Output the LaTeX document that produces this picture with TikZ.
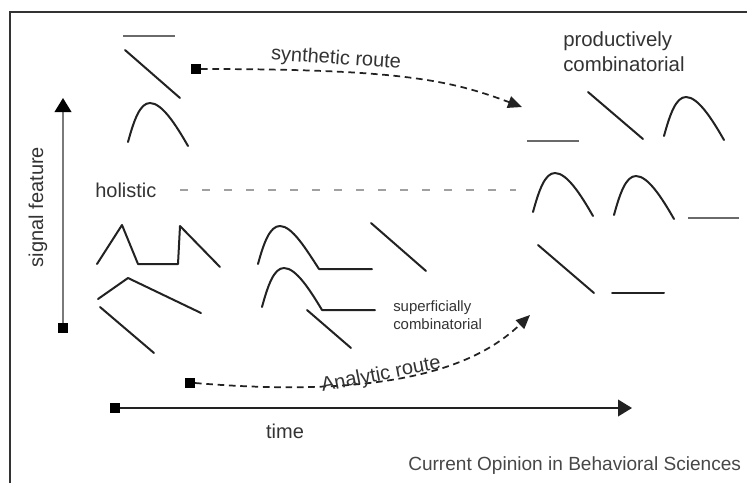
\documentclass[tikz,border=0pt]{standalone}
\usepackage{fontspec}
\setmainfont{Liberation Sans}
\usetikzlibrary{arrows.meta}
\definecolor{ink}{HTML}{222222}
\definecolor{txt}{HTML}{333333}
\definecolor{greyline}{HTML}{6A6A6A}
\definecolor{axisgrey}{HTML}{7A7A7A}
\definecolor{dashgrey}{HTML}{A0A0A0}
\tikzset{
  glyph/.style={draw=ink, line width=1.5pt, line cap=round, line join=round},
  flatglyph/.style={draw=greyline, line width=1.9pt},
  sqmark/.style={fill=black, draw=none, minimum size=7.5pt, inner sep=0pt, outer sep=0pt},
  lbl/.style={text=txt, inner sep=0pt, font=\fontsize{15}{18}\selectfont},
  route/.style={draw=ink, line width=1.3pt, dash pattern=on 5pt off 3.5pt,
    -{Triangle[length=10.5pt,width=9pt]}},
  archglyph/.pic={\draw[glyph] (0,0) .. controls (6,-22) and (12,-39) .. (22,-39)
     .. controls (34,-39) and (48,-17) .. (60,4);}
}
\begin{document}
\begin{tikzpicture}[x=0.75pt,y=-0.75pt]
\useasboundingbox (0,0) rectangle (747,483);
% frame
\draw[draw=txt, line width=1.5pt] (10,483) -- (10,12) -- (747,12);

% axes
\node[sqmark] (vsq) at (63,328) {};
\coordinate (vtip) at (63,98);
\draw[draw=axisgrey, line width=1.3pt, -{Triangle[length=10.5pt,width=12.5pt,fill=black,color=black]}] (vsq) -- (vtip);
\node[sqmark] (hsq) at (115,408) {};
\coordinate (htip) at (632,408);
\draw[draw=ink, line width=1.3pt, -{Triangle[length=10.5pt,width=12.5pt]}] (hsq) -- (htip);

\node[lbl, rotate=90] (sig) at (38,207) {signal feature};
\node[lbl] (time) at (285,431) {time};

% holistic
\node[lbl, anchor=base west] (hol) at (95,197) {holistic};
\coordinate (holA) at (180,190);
\coordinate (holB) at (516,190);
\draw[draw=dashgrey, line width=1.1pt, dash pattern=on 6pt off 10.5pt] (holA) -- (holB);

% synthetic route
\node[sqmark] (ssq) at (196,69) {};
\coordinate (stip) at (522,107);
\draw[route] (ssq.east) .. controls (400,69) and (450,80) .. (stip);
\node[lbl, rotate=-4] (synlbl) at (336,59) {synthetic route};

% analytic route
\node[sqmark] (asq) at (190,383) {};
\coordinate (atip) at (530,315);
\draw[route] (asq.east) .. controls (410,401) and (485,358) .. (atip);
\node[lbl, rotate=11] (analbl) at (381,375) {Analytic route};

% labels
\node[lbl, align=left, anchor=north west, font=\fontsize{15.3}{18.8}\selectfont] (prod) at (563,31) {productively\\combinatorial};
\node[lbl, align=left, anchor=west, font=\fontsize{11.2}{13.5}\selectfont] (sup) at (393,315) {superficially\\combinatorial};
\node[lbl, anchor=base west, text=txt!90, font=\fontsize{14.3}{17}\selectfont] (src) at (408,470) {Current Opinion in Behavioral Sciences};

% top-left glyphs
\draw[flatglyph] (123,36) -- (175,36);
\draw[glyph] (125,50) -- (180,98);
\pic at (128,142) {archglyph};

% top-right glyphs
\draw[flatglyph] (527,141) -- (579,141);
\draw[glyph] (588,92) -- (643,139);
\pic at (664,136) {archglyph};

% right middle glyphs
\pic at (533,212) {archglyph};
\pic at (614,215) {archglyph};
\draw[flatglyph] (688,218) -- (739,218);
\draw[glyph] (538,245) -- (594,293);
\draw[glyph] (612,293) -- (664,293);

% holistic signals (left)
\draw[glyph] (97,264) -- (122,225) -- (138,264) -- (178,264) -- (180,226) -- (220,267);
\draw[glyph] (98,299) -- (128,278) -- (201,313);
\draw[glyph] (100,307) -- (154,353);

% superficially combinatorial signals
\draw[glyph] (258,264) .. controls (264,242) and (270,226) .. (280,226)
  .. controls (292,226) and (306,249) .. (319,269) -- (372,269);
\draw[glyph] (262,307) .. controls (268,285) and (274,268) .. (284,268)
  .. controls (296,268) and (310,290) .. (322,310) -- (375,310);
\draw[glyph] (371,223) -- (426,271);
\draw[glyph] (307,310) -- (351,348);
\end{tikzpicture}
\end{document}
